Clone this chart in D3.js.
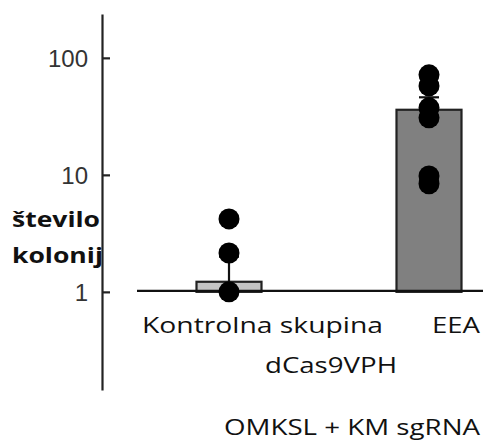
<!DOCTYPE html>
<html>
<head>
<meta charset="utf-8">
<script src="https://cdn.jsdelivr.net/npm/d3@7"></script>
<style>
  body { margin: 0; background: #fff; }
  svg { display: block; }
</style>
</head>
<body>
<div class="chart"></div>
<script>
'use strict';

// data
var groups = ["Kontrolna skupina", "EEA"];
var barValues = [1.22, 36];
var errTop = [2.0, 46];
var ctrlPoints = [1, 2.15, 4.2];
var eeaPoints = [71.6, 57.6, 37.4, 30.7, 9.8, 8.4];
var yTicks = [1, 10, 100];
var subLabel = "dCas9VPH";
var groupTitle = "OMKSL + KM sgRNA";
var yTitle = ["število", "kolonij"];

var width = 483;
var height = 441;
var labelFont = "'Open Sans', sans-serif";

var svg = d3.select(".chart").append("svg")
    .attr("width", width)
    .attr("height", height);

// log axis, one decade ~117px
var y = d3.scaleLog()
    .domain([0.145, 237])
    .range([390, 14]);

var x = d3.scalePoint()
    .domain(groups)
    .range([229, 429]);

var barW = 65;

// y axis
var yAxis = d3.axisRight(y)
    .tickValues(yTicks)
    .tickFormat(d3.format("d"))
    .tickSize(8)
    .tickSizeOuter(0);

var gy = svg.append("g")
    .attr("transform", "translate(102,0)")
    .call(yAxis);

gy.select(".domain").attr("stroke", "#222").attr("stroke-width", 2.2);
gy.selectAll(".tick line").attr("stroke", "#222").attr("stroke-width", 2.2);
gy.selectAll(".tick text")
    .attr("x", -14)
    .attr("dy", "0.35em")
    .style("text-anchor", "end")
    .attr("fill", "#333")
    .attr("font-family", "'Liberation Sans', Arial, sans-serif")
    .attr("font-size", "24px");

// y title (two lines, bold)
svg.append("g").selectAll("text")
    .data(yTitle)
    .enter().append("text")
    .attr("x", 12)
    .attr("y", (d, i) => 227 + i * 36)
    .attr("font-family", labelFont)
    .attr("font-weight", "bold")
    .attr("font-size", "22px")
    .attr("fill", "#111")
    .attr("textLength", (d, i) => i == 0 ? 88 : 91)
    .attr("lengthAdjust", "spacingAndGlyphs")
    .text(d => d);

// bars
svg.append("g").selectAll("rect")
    .data(groups)
    .enter().append("rect")
    .attr("x", d => x(d) - barW / 2)
    .attr("width", barW)
    .attr("y", (d, i) => y(barValues[i]))
    .attr("height", (d, i) => y(1) - y(barValues[i]))
    .attr("fill", (d, i) => i == 0 ? "#c4c4c4" : "#808080")
    .attr("stroke", "#222")
    .attr("stroke-width", 2.2);

// error bars
svg.append("g").selectAll("line")
    .data(groups)
    .enter().append("line")
    .attr("x1", d => x(d))
    .attr("x2", d => x(d))
    .attr("y1", (d, i) => y(barValues[i]))
    .attr("y2", (d, i) => y(errTop[i]))
    .attr("stroke", "#111")
    .attr("stroke-width", 2.2);

svg.append("g").selectAll("line")
    .data(groups)
    .enter().append("line")
    .attr("x1", d => x(d) - 10)
    .attr("x2", d => x(d) + 10)
    .attr("y1", (d, i) => y(errTop[i]))
    .attr("y2", (d, i) => y(errTop[i]))
    .attr("stroke", "#111")
    .attr("stroke-width", 2.2);

// baseline
svg.append("line")
    .attr("x1", 137)
    .attr("x2", width)
    .attr("y1", y(1) - 1)
    .attr("y2", y(1) - 1)
    .attr("stroke", "#111")
    .attr("stroke-width", 2.2);

// points
var points = ctrlPoints.map(v => ({g: groups[0], v: v}))
    .concat(eeaPoints.map(v => ({g: groups[1], v: v})));

svg.append("g").selectAll("circle")
    .data(points)
    .enter().append("circle")
    .attr("cx", d => x(d.g))
    .attr("cy", d => y(d.v))
    .attr("r", 10.5)
    .attr("fill", "#000");

// category labels
var labels = svg.append("g")
    .attr("font-family", labelFont)
    .attr("font-size", "22px")
    .attr("fill", "#111");

labels.append("text")
    .attr("x", x(groups[0]) - 87)
    .attr("y", 333)
    .attr("textLength", 241)
    .attr("lengthAdjust", "spacingAndGlyphs")
    .text(groups[0]);

labels.append("text")
    .attr("x", x(groups[1]) + 51)
    .attr("y", 333)
    .style("text-anchor", "end")
    .attr("textLength", 48)
    .attr("lengthAdjust", "spacingAndGlyphs")
    .text(groups[1]);

labels.append("text")
    .attr("x", (x(groups[0]) + x(groups[1])) / 2 - 64)
    .attr("y", 373)
    .attr("textLength", 132)
    .attr("lengthAdjust", "spacingAndGlyphs")
    .text(subLabel);

labels.append("text")
    .attr("x", 224)
    .attr("y", 435)
    .attr("textLength", 256)
    .attr("lengthAdjust", "spacingAndGlyphs")
    .text(groupTitle);
</script>
</body>
</html>
